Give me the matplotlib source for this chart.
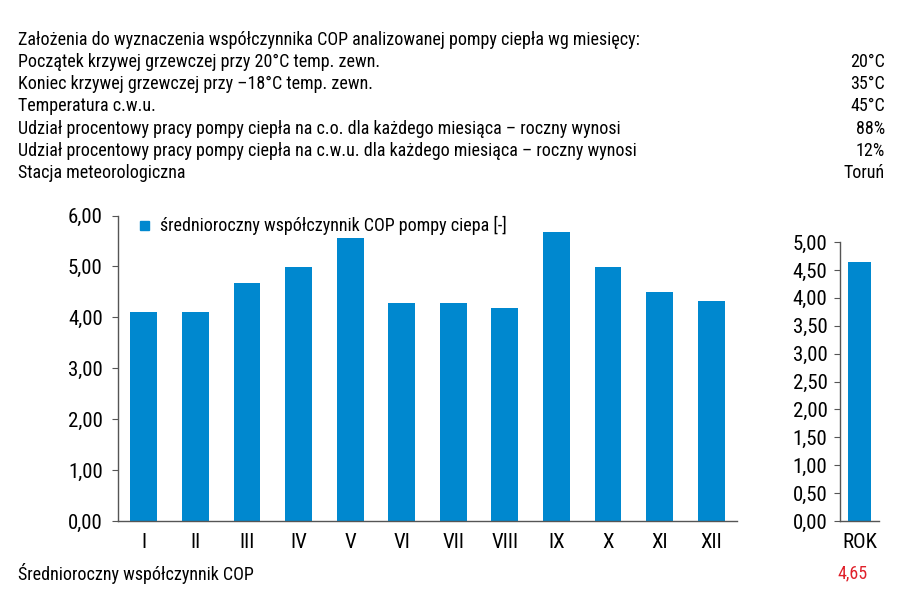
import matplotlib
matplotlib.use("Agg")
import matplotlib.pyplot as plt
from matplotlib import font_manager
from matplotlib.patches import Rectangle

# --- data ---
MONTHS = ["I", "II", "III", "IV", "V", "VI", "VII", "VIII", "IX", "X", "XI", "XII"]
COP_MONTHLY = [4.10, 4.10, 4.67, 4.98, 5.55, 4.28, 4.28, 4.19, 5.67, 4.98, 4.49, 4.33]
YEAR_LABEL = ["ROK"]
COP_YEAR = [4.65]
MAIN_TICKS = [0, 1, 2, 3, 4, 5, 6]
YEAR_TICKS = [0, 0.5, 1, 1.5, 2, 2.5, 3, 3.5, 4, 4.5, 5]

HEADER = "Założenia do wyznaczenia współczynnika COP analizowanej pompy ciepła wg miesięcy:"
ROW_LABELS = [
    "Początek krzywej grzewczej przy 20°C temp. zewn.",
    "Koniec krzywej grzewczej przy –18°C temp. zewn.",
    "Temperatura c.w.u.",
    "Udział procentowy pracy pompy ciepła na c.o. dla każdego miesiąca – roczny wynosi",
    "Udział procentowy pracy pompy ciepła na c.w.u. dla każdego miesiąca – roczny wynosi",
    "Stacja meteorologiczna",
]
ROW_VALUES = ["20°C", "35°C", "45°C", "88%", "12%", "Toruń"]
LEGEND_LABEL = "średnioroczny współczynnik COP pompy ciepa [-]"
FOOTER_LABEL = "Średnioroczny współczynnik COP"

BLUE = "#0088cf"
AXIS = "#555555"

# condensed sans, if one is around
_installed = {f.name for f in font_manager.fontManager.ttflist}
_wanted = ["Roboto Condensed", "Archivo Narrow", "PT Sans Narrow", "Liberation Sans Narrow",
           "Fira Sans Condensed", "IBM Plex Sans Condensed", "Open Sans Condensed", "Liberation Sans"]
FONT = [n for n in _wanted if n in _installed][:1] + ["DejaVu Sans"]
plt.rcParams["font.family"] = FONT


def fmt(v):
    return f"{v:.2f}".replace(".", ",")


def style_axes(ax):
    for side in ("top", "right"):
        ax.spines[side].set_visible(False)
    for side in ("left", "bottom"):
        ax.spines[side].set_color(AXIS)
        ax.spines[side].set_linewidth(1.0)
    ax.tick_params(axis="y", direction="out", length=4, color=AXIS, labelsize=15, pad=7)
    ax.tick_params(axis="x", length=0, labelsize=15, pad=9)


fig = plt.figure(figsize=(9, 6.02), dpi=100)

# header block
fs = 13
fig.text(18 / 900, 1 - 40 / 602, HEADER, fontsize=fs, va="center", ha="left")
for i, (lab, val) in enumerate(zip(ROW_LABELS, ROW_VALUES)):
    y = 1 - (62 + 22.2 * i) / 602
    fig.text(18 / 900, y, lab, fontsize=fs, va="center", ha="left")
    fig.text(885 / 900, y, val, fontsize=fs, va="center", ha="right")

# monthly chart
ax = fig.add_axes([118 / 900, 1 - 521 / 602, 619 / 900, 305.5 / 602])
x = list(range(len(MONTHS)))
ax.bar(x, COP_MONTHLY, width=0.52, color=BLUE)
ax.set_xlim(-0.5, len(MONTHS) - 0.5)
ax.set_ylim(0, 6)
ax.set_yticks(MAIN_TICKS)
ax.set_yticklabels([fmt(v) for v in MAIN_TICKS])
ax.set_xticks(x)
ax.set_xticklabels(MONTHS)
style_axes(ax)

# legend drawn by hand (square marker + text)
fig.patches.append(Rectangle((140 / 900, 1 - 230 / 602), 9 / 900, 9 / 602,
                             transform=fig.transFigure, color=BLUE))
fig.text(160 / 900, 1 - 225 / 602, LEGEND_LABEL, fontsize=13, va="center", ha="left")

# yearly chart
ax2 = fig.add_axes([840 / 900, 1 - 521 / 602, 39 / 900, 279 / 602])
ax2.bar([0], COP_YEAR, width=0.59, color=BLUE)
ax2.set_xlim(-0.5, 0.5)
ax2.set_ylim(0, 5)
ax2.set_yticks(YEAR_TICKS)
ax2.set_yticklabels([fmt(v) for v in YEAR_TICKS])
ax2.set_xticks([0])
ax2.set_xticklabels(YEAR_LABEL)
style_axes(ax2)
ax2.tick_params(axis="y", pad=5)

# footer
fig.text(18 / 900, 1 - 573 / 602, FOOTER_LABEL, fontsize=fs, va="center", ha="left")
fig.text(852 / 900, 1 - 573 / 602, fmt(COP_YEAR[0]), fontsize=13, va="center",
         ha="center", color="#e0202a")

fig.savefig("out.png", dpi=100)
